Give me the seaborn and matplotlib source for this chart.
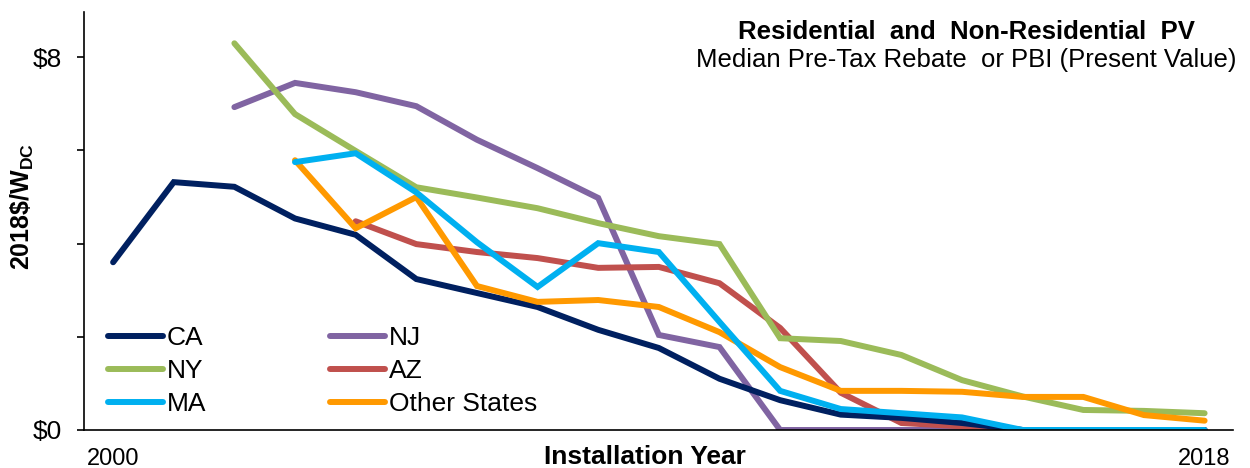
import numpy as np
import pandas as pd
import matplotlib
matplotlib.use("Agg")
import matplotlib.pyplot as plt
import seaborn as sns

# ------------------------------------------------------------------ #
#                              DATA                                  #
# ------------------------------------------------------------------ #
YEARS = list(range(2000, 2019))
nan = np.nan

CA = [3.60, 5.32, 5.22, 4.54, 4.19, 3.24, 2.94, 2.64, 2.15, 1.76, 1.10, 0.64, 0.33, 0.26, 0.15, 0.0, 0.0, 0.0, 0.0]
NY = [nan, nan, 8.30, 6.78, 5.99, 5.21, 4.99, 4.76, 4.44, 4.16, 3.99, 1.97, 1.91, 1.61, 1.07, 0.72, 0.43, 0.41, 0.36]
MA = [nan, nan, nan, 5.75, 5.94, 5.10, 4.03, 3.07, 4.01, 3.82, 2.32, 0.84, 0.45, 0.36, 0.27, 0.0, 0.0, 0.0, 0.0]
NJ = [nan, nan, 6.93, 7.45, 7.25, 6.95, 6.23, 5.62, 4.98, 2.04, 1.78, 0.0, 0.0, 0.0, 0.0, 0.0, 0.0, 0.0, 0.0]
AZ = [nan, nan, nan, nan, 4.48, 3.99, 3.82, 3.69, 3.48, 3.50, 3.15, 2.19, 0.80, 0.15, 0.08, 0.0, 0.0, 0.0, 0.0]
OTHER = [nan, nan, nan, 5.79, 4.33, 5.00, 3.09, 2.75, 2.79, 2.64, 2.10, 1.35, 0.84, 0.84, 0.82, 0.71, 0.71, 0.32, 0.20]

SERIES = {"CA": CA, "NY": NY, "MA": MA, "NJ": NJ, "AZ": AZ, "Other States": OTHER}
COLORS = {
    "CA": "#002060",
    "NY": "#9BBB59",
    "MA": "#00B0F0",
    "NJ": "#8064A2",
    "AZ": "#C0504D",
    "Other States": "#FF9900",
}
DRAW_ORDER = ["NJ", "AZ", "CA", "NY", "Other States", "MA"]

# ------------------------------------------------------------------ #
#                              STYLE                                 #
# ------------------------------------------------------------------ #
sns.set_theme(style="white")
plt.rcParams["font.family"] = ["Liberation Sans", "DejaVu Sans"]
plt.rcParams["mathtext.fontset"] = "custom"
plt.rcParams["mathtext.rm"] = "Liberation Sans"
plt.rcParams["mathtext.bf"] = "Liberation Sans:bold"
plt.rcParams["text.color"] = "black"
plt.rcParams["axes.labelcolor"] = "black"
plt.rcParams["xtick.color"] = "black"
plt.rcParams["ytick.color"] = "black"

df = pd.DataFrame(
    [(y, name, v) for name, vals in SERIES.items() for y, v in zip(YEARS, vals)],
    columns=["year", "state", "value"],
).dropna()

fig = plt.figure(figsize=(12.5, 4.68), dpi=100)
ax = fig.add_axes([0.0672, 0.0812, 0.9188, 0.893])

handles = {}
for name in DRAW_ORDER:
    sub = df[df["state"] == name]
    sns.lineplot(data=sub, x="year", y="value", color=COLORS[name], linewidth=4.3,
                 ax=ax, legend=False, solid_capstyle="round", solid_joinstyle="miter")
    handles[name] = ax.lines[-1]

ax.set_xlim(1999.52, 2018.46)
ax.set_ylim(0, 8.97)

# axes / ticks
for side in ["top", "right"]:
    ax.spines[side].set_visible(False)
for side in ["left", "bottom"]:
    ax.spines[side].set_color("black")
    ax.spines[side].set_linewidth(1.2)

ax.set_yticks([0, 2, 4, 6, 8])
ax.set_yticklabels(["$0", "", "", "", "$8"])
ax.tick_params(axis="y", direction="out", length=5, width=1.2, color="black",
               pad=11, labelsize=19, left=True)
ax.set_xticks([2000, 2018])
ax.set_xticklabels(["2000", "2018"])
ax.tick_params(axis="x", length=0, pad=13, labelsize=17)

ax.set_xlabel("Installation Year", fontsize=19, fontweight="bold")
ax.xaxis.set_label_coords(0.488, -0.036)
ax.set_ylabel(r"2018\$/W$_{\mathbf{DC}}$", fontsize=18, fontweight="bold")
ax.yaxis.set_label_coords(-0.042, 0.535)

# title block (upper right)
fig.text(0.773, 1 - 39 / 468, "Residential  and  Non-Residential  PV", ha="center",
         va="baseline", fontsize=18.5, fontweight="bold")
fig.text(0.773, 1 - 67 / 468, "Median Pre-Tax Rebate  or PBI (Present Value)", ha="center",
         va="baseline", fontsize=18.5)

# legend: two columns, lower left
leg_order = ["CA", "NY", "MA", "NJ", "AZ", "Other States"]
ax.legend([handles[n] for n in leg_order], leg_order, ncol=2, loc="lower left",
          bbox_to_anchor=(0.021, 0.034), frameon=False, fontsize=19,
          handlelength=2.08, handletextpad=0.15, labelspacing=0.33,
          columnspacing=4.7, borderpad=0, borderaxespad=0)

plt.savefig("out.png", dpi=100)
